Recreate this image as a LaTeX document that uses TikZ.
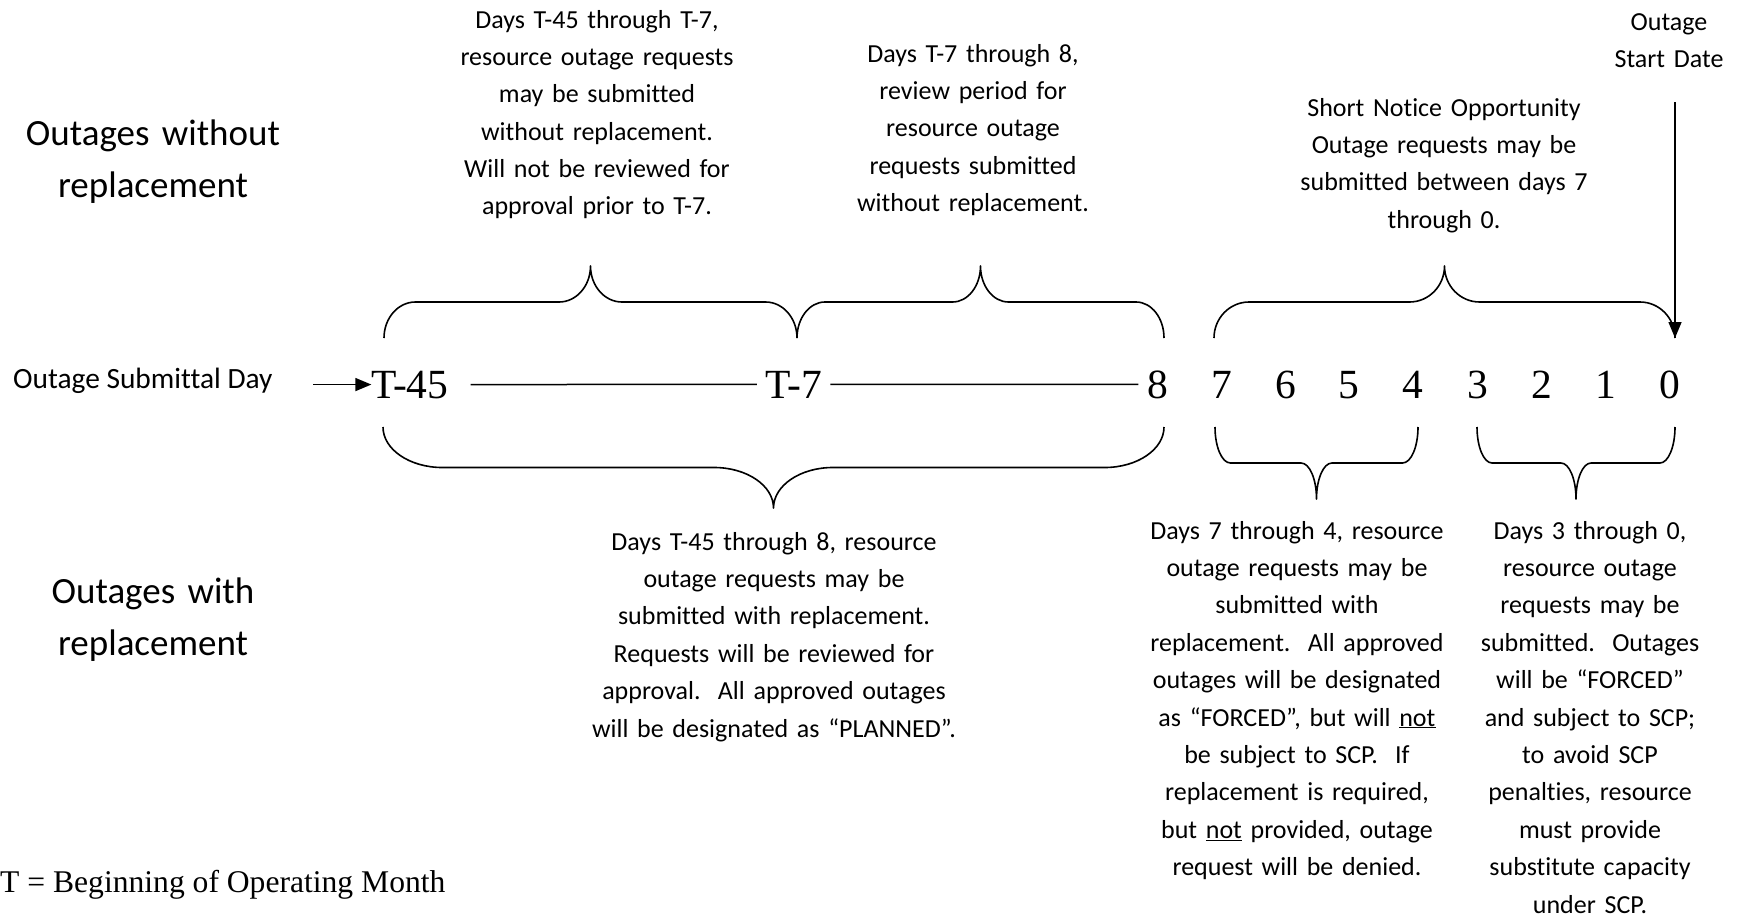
\documentclass[tikz,border=0pt]{standalone}
\usepackage{fontspec}
\setmainfont{Carlito}[Ligatures=CommonOff]
\newfontfamily\tlserif{Liberation Serif}
\usetikzlibrary{arrows.meta}
\frenchspacing

% Curly brace drawn as straight runs joined by quarter ellipses.
% #1 left x, #2 right x, #3 y of the two ends, #4 signed depth of each step
% (negative: the point faces up the page, positive: it faces down).
\newcommand\tlbrace[4]{%
  \pgfmathsetmacro\brM{(#1+#2)/2}%
  \pgfmathsetmacro\brD{0.076*(#2-#1)}%
  \pgfmathsetmacro\brE{0.4477*\brD}%
  \pgfmathsetmacro\brYa{#3+#4}%
  \pgfmathsetmacro\brYb{#3+2*#4}%
  \pgfmathsetmacro\brC{#3+0.5523*#4}%
  \pgfmathsetmacro\brT{\brYa+0.4477*#4}%
  \draw[bracestyle]
    (#1,#3) .. controls (#1,\brC) and ({#1+\brE},\brYa) .. ({#1+\brD},\brYa)
    -- ({\brM-\brD},\brYa) .. controls ({\brM-\brE},\brYa) and (\brM,\brT) .. (\brM,\brYb)
    .. controls (\brM,\brT) and ({\brM+\brE},\brYa) .. ({\brM+\brD},\brYa)
    -- ({#2-\brD},\brYa) .. controls ({#2-\brE},\brYa) and (#2,\brC) .. (#2,#3);
}

\tikzset{
  bracestyle/.style={line width=1.6pt, line join=round},
  tline/.style={line width=1.5pt},
  arr/.style={line width=1.5pt, -{Triangle[length=16pt,width=13pt]}},
  num/.style={font=\tlserif\fontsize{41.5}{50}\selectfont, inner sep=0pt, anchor=base},
  note/.style={font=\fontsize{26}{37.4}\selectfont, align=center, text width=420pt,
    inner sep=0pt, anchor=base},
  heading/.style={font=\fontsize{37}{52}\selectfont, align=center, text width=400pt,
    inner sep=0pt, anchor=base},
}

\begin{document}
\begin{tikzpicture}[x=1pt,y=-1pt]
\useasboundingbox (0,0) rectangle (1741,918);

% timeline labels
\node[num] (t45) at (410,398) {T-45};
\node[num] (t7)  at (794,398) {T-7};
\node[num] (d8)  at (1158,398) {8};
\node[num] (d7)  at (1222,398) {7};
\node[num] (d6)  at (1286,398) {6};
\node[num] (d5)  at (1349,398) {5};
\node[num] (d4)  at (1413,398) {4};
\node[num] (d3)  at (1478,398) {3};
\node[num] (d2)  at (1542,398) {2};
\node[num] (d1)  at (1606,398) {1};
\node[num] (d0)  at (1670,398) {0};

% timeline segments
\draw[tline, shorten <=22pt, shorten >=9pt] (t45.east) -- (t7.west);
\draw[tline, shorten <=8pt, shorten >=9pt] (t7.east) -- (d8.west);

% submittal day arrow
\node[font=\fontsize{29.4}{34}\selectfont, anchor=base west, inner sep=0pt] (subday) at (13,388) {Outage Submittal Day};
\coordinate (subm) at (313,383);
\draw[arr] (t45.west -| subm) -- (t45.west);

% outage start date arrow
\node[note] (start) at (1669,30) {Outage\\Start Date};
\coordinate (sdtop) at (1675,102);
\coordinate (sdend) at (1675,338);
\draw[arr] (sdtop) -- (sdend);

% braces above the timeline
\tlbrace{384}{797}{338}{-36}
\tlbrace{797}{1164}{338}{-36}
\tlbrace{1214}{1675}{338}{-36}

% braces below the timeline
\tlbrace{383}{1164}{427}{40.5}
\tlbrace{1215}{1418}{427}{36}
\tlbrace{1477}{1675}{427}{36}

% row headings
\node[heading] (without) at (153,145) {Outages without\\replacement};
\node[heading] (with) at (153,603) {Outages with\\replacement};

% notes above
\node[note] (na) at (597,28) {Days T-45 through T-7,\\resource outage requests\\may be submitted\\without replacement.\\Will not be reviewed for\\approval prior to T-7.};
\node[note] (nb) at (973,62) {Days T-7 through 8,\\review period for\\resource outage\\requests submitted\\without replacement.};
\node[note] (nc) at (1444,116) {Short Notice Opportunity\\Outage requests may be\\submitted between days 7\\through 0.};

% notes below
\node[note] (ng) at (774,550) {Days T-45 through 8, resource\\outage requests may be\\submitted with replacement.\\Requests will be reviewed for\\approval.~ All approved outages\\will be designated as “PLANNED”.};
\node[note] (nh) at (1297,539) {Days 7 through 4, resource\\outage requests may be\\submitted with\\replacement.~ All approved\\outages will be designated\\as “FORCED”, but will \underline{not}\\be subject to SCP.~ If\\replacement is required,\\but \underline{not} provided, outage\\request will be denied.};
\node[note] (ni) at (1590,539) {Days 3 through 0,\\resource outage\\requests may be\\submitted.~ Outages\\will be “FORCED”\\and subject to SCP;\\to avoid SCP\\penalties, resource\\must provide\\substitute capacity\\under SCP.};

% legend
\node[font=\tlserif\fontsize{31.6}{38}\selectfont, anchor=base west, inner sep=0pt] (legend) at (0,892) {T = Beginning of Operating Month};
\end{tikzpicture}
\end{document}
